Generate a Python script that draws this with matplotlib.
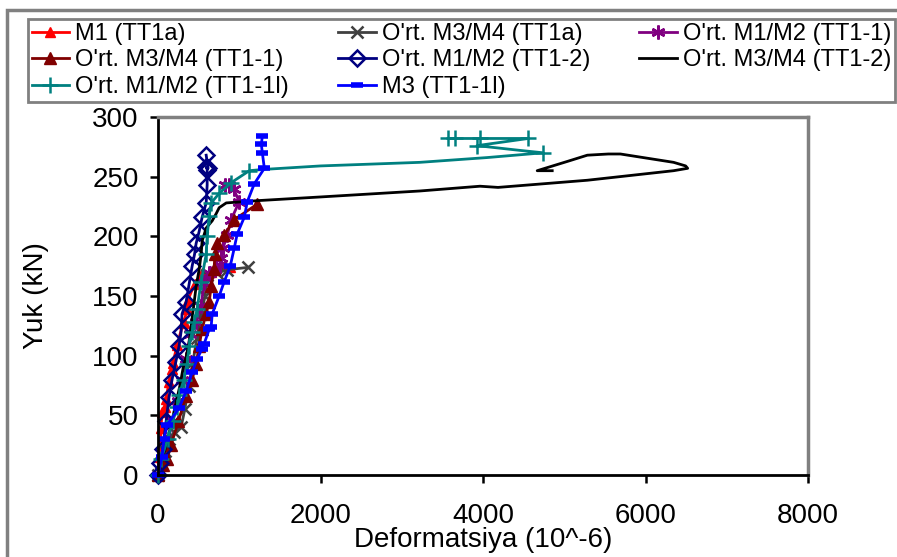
import numpy as np
import matplotlib
matplotlib.use("Agg")
import matplotlib.pyplot as plt
from matplotlib.patches import Rectangle

plt.rcParams['font.family'] = ['Liberation Sans', 'DejaVu Sans']

# load vs strain readings, one pair of lists per gauge
m1_tt1a_x = [0, 25, 37, 49, 86, 99, 136, 173, 185, 235, 308, 320, 358, 370, 450, 540, 654, 886]
m1_tt1a_y = [0, 15, 39, 53, 57, 64, 78, 89, 94, 109, 127, 128, 139, 147, 160, 169, 170, 174]

m34_tt1a_x = [0, 40, 90, 136, 200, 284, 330, 380, 430, 480, 530, 580, 605, 720, 850, 1111]
m34_tt1a_y = [0, 10, 20, 30, 36, 40, 55, 75, 95, 115, 135, 150, 168, 169, 172, 174]

m12_tt11_x = [0, 60, 120, 180, 250, 300, 350, 395, 470, 530, 568, 630, 700, 760, 780, 800, 852, 900, 1000, 930, 877, 820]
m12_tt11_y = [0, 12, 28, 45, 62, 80, 97, 118, 128, 142, 161, 169, 172, 176, 182, 190, 201, 214, 229, 240, 243, 243]

m34_tt11_x = [0, 60, 111, 160, 250, 345, 420, 469, 506, 543, 590, 630, 654, 691, 700, 728, 815, 938, 1222]
m34_tt11_y = [0, 8, 13, 25, 45, 66, 80, 93, 108, 122, 135, 145, 158, 173, 185, 194, 201, 214, 227]

m12_tt12_x = [0, 30, 60, 100, 135, 173, 220, 259, 284, 296, 346, 383, 420, 450, 469, 506, 543, 593, 605, 605, 593, 617, 593]
m12_tt12_y = [0, 10, 22, 45, 65, 80, 95, 108, 120, 135, 145, 160, 175, 185, 194, 204, 216, 228, 243, 256, 258, 257, 268]

m34_tt12_x = [0, 60, 120, 170, 220, 270, 310, 346, 383, 420, 469, 506, 531, 543, 593, 667, 716, 753, 840, 1247,
              2000, 3222, 3963, 4185, 5284, 6346, 6519, 6494, 6346, 5691, 5543, 5284, 5049, 4667, 4852]
m34_tt12_y = [0, 15, 30, 45, 60, 75, 90, 99, 111, 131, 158, 172, 185, 196, 207, 213, 219, 224, 228, 230,
              233, 238, 242, 241, 247, 255, 257, 259, 262, 269, 269, 268, 263, 255, 255]

m12_tt11l_x = [0, 37, 120, 180, 235, 259, 320, 358, 383, 420, 444, 481, 531, 593, 605, 630, 654, 753, 901, 1124, 1284,
               2000, 3222, 4049, 4741, 4457, 3926, 4556, 3963, 3654, 3568]
m12_tt11l_y = [0, 13, 30, 45, 57, 67, 80, 93, 108, 120, 128, 139, 162, 185, 200, 217, 228, 236, 245, 255, 256,
               259, 262, 266, 270, 272, 276, 282, 282, 282, 282]
m12_tt11l_marks = [i for i in range(len(m12_tt11l_x)) if i not in (20, 21, 22, 23, 25)]

m3_tt11l_x = [0, 49, 74, 111, 259, 345, 420, 481, 543, 568, 630, 654, 667, 753, 815, 889, 938, 975, 1062, 1099,
              1185, 1309, 1284, 1272, 1284]
m3_tt11l_y = [0, 15, 30, 42, 56, 70, 86, 97, 106, 110, 122, 124, 135, 150, 162, 175, 190, 202, 216, 229,
              244, 257, 270, 277, 284]

fig = plt.figure(figsize=(8.97, 5.57), dpi=100)
W, H = 897, 557
ax = fig.add_axes([158 / W, 1 - 475 / H, 650 / W, 358 / H])

lw = 2
lines = []
lines += ax.plot(m1_tt1a_x, m1_tt1a_y, color='#FF0000', lw=lw, marker='^', ms=7, clip_on=False, label='M1 (TT1a)')
lines += ax.plot(m34_tt1a_x, m34_tt1a_y, color='#404040', lw=lw, marker='x', ms=8, mew=1.8, clip_on=False,
                 label="O'rt. M3/M4 (TT1a)")
lines += ax.plot(m12_tt11_x, m12_tt11_y, color='#800080', lw=lw, marker=(6, 2, 0), ms=10, mew=1.8, clip_on=False,
                 label="O'rt. M1/M2 (TT1-1)")
lines += ax.plot(m34_tt11_x, m34_tt11_y, color='#800000', lw=lw, marker='^', ms=9, clip_on=False,
                 label="O'rt. M3/M4 (TT1-1)")
lines += ax.plot(m12_tt12_x, m12_tt12_y, color='#000080', lw=lw, marker='D', ms=8, mfc='none', mew=1.8,
                 clip_on=False, label="O'rt. M1/M2 (TT1-2)")
lines += ax.plot(m34_tt12_x, m34_tt12_y, color='#000000', lw=lw, clip_on=False, label="O'rt. M3/M4 (TT1-2)")
lines += ax.plot(m12_tt11l_x, m12_tt11l_y, color='#008080', lw=lw, marker='+', ms=11, mew=1.8,
                 markevery=m12_tt11l_marks, clip_on=False, label="O'rt. M1/M2 (TT1-1l)")
lines += ax.plot(m3_tt11l_x, m3_tt11l_y, color='#0000FF', lw=lw, marker='_', ms=8, mew=4, clip_on=False,
                 label='M3 (TT1-1l)')

ax.set_xlim(0, 8000)
ax.set_ylim(0, 300)
ax.set_xticks([0, 2000, 4000, 6000, 8000])
ax.set_yticks(np.arange(0, 301, 50))
ax.tick_params(labelsize=20, length=6, width=1.8, direction='out')
ax.tick_params(axis='x', pad=14)
ax.tick_params(axis='y', pad=8)
ax.set_xlabel('Deformatsiya (10^-6)', fontsize=20)
ax.set_ylabel('Yuk (kN)', fontsize=20)
ax.xaxis.set_label_coords(0.5, -0.145)
ax.yaxis.set_label_coords(-0.168, 0.5)

for side in ('left', 'bottom'):
    ax.spines[side].set_linewidth(2)
    ax.spines[side].set_color('black')
for side in ('top', 'right'):
    ax.spines[side].set_linewidth(2.5)
    ax.spines[side].set_color('#808080')

# outer chart frame
fig.patches.append(Rectangle((7 / W, -0.05), 1.0, 1.05 - 10 / H, transform=fig.transFigure,
                             fill=False, edgecolor='#808080', lw=2.5))

# legend reads row by row, matplotlib fills column by column
order = [0, 3, 6, 1, 4, 7, 2, 5]
leg = fig.legend([lines[i] for i in order], [lines[i].get_label() for i in order],
                 loc='center', ncol=3, fontsize=17, mode='expand',
                 bbox_to_anchor=(28 / W, 1 - 104 / H, 867 / W, 87 / H),
                 frameon=True, fancybox=False, edgecolor='#808080', framealpha=1,
                 handlelength=1.6, handletextpad=0.25, labelspacing=0.2, borderpad=0.15,
                 borderaxespad=0)
leg.get_frame().set_linewidth(2)

fig.savefig('out.png', dpi=100)
